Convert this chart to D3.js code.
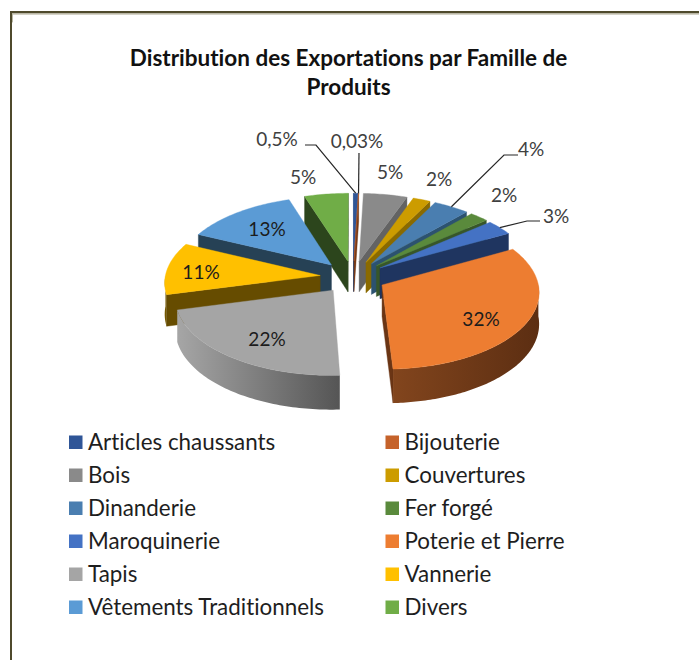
<!DOCTYPE html>
<html><head><meta charset="utf-8">
<script src="https://cdn.jsdelivr.net/npm/d3@7"></script>
<style>html,body{margin:0;padding:0;background:#fff}svg{display:block}text{font-family:Lato,"Noto Sans",sans-serif;font-variant-ligatures:none}</style>
</head><body><svg id="c" width="699" height="660"></svg>
<script>
const categories=["Articles chaussants","Bijouterie","Bois","Couvertures","Dinanderie","Fer forgé","Maroquinerie","Poterie et Pierre","Tapis","Vannerie","Vêtements Traditionnels","Divers"];
const values=[0.5,0.03,5,2,4.1,2.2,3.2,32.2,21.8,11,13,5];
const valueLabels=["0,5%","0,03%","5%","2%","4%","2%","3%","32%","22%","11%","13%","5%"];
const titleLines=["Distribution des Exportations par Famille de","Produits"];
const topColors=["#2f5597","#c5622a","#8a8a8a","#cc9c00","#4a7eb0","#5a8a3c","#4472c4","#ed7d31","#a5a5a5","#ffc000","#5b9bd5","#70ad47"];
const sideColors=["#1f3864","#7a3a14","#636363","#8a6a00","#2c5270","#37562a","#1f3560","#6a3515","#8c8c8c","#664c00","#264155","#2c451c"];
const wallStart=["#1f3864","#7a3a14","#777777","#9a7600","#36648c","#44692c","#26437a","#82451d","#a6a6a6","#7f6000","#2e5a82","#446a2c"];
const wallEnd=["#1f3864","#7a3a14","#555555","#7a5e00","#264866","#314d20","#1f3560","#5c2e12","#555555","#664c00","#264155","#2c451c"];
const labelSpots=[[277,139],[357,141],[390,172],[439,179],[531,149],[504,195],[556,216],[481,319],[267,339],[201,272],[267,229],[303,177]];
const leaderElbows={0:[[305,145],[316,145]],1:[[359,153]],4:[[518,155],[504,155]],6:[[540,221],[527,221]]};

const P={cx:353,cy:277,R:155,e:33,k:0.49,h:31,D:1900};
const svg=d3.select("#c");
const defs=svg.append("defs");
const frame="#4f4a2c";
svg.append("rect").attr("x",10).attr("y",11).attr("width",689).attr("height",2.4).attr("fill",frame);
svg.append("rect").attr("x",12).attr("y",13.4).attr("width",687).attr("height",1.2).attr("fill","#b9b7a2");
svg.append("rect").attr("x",10).attr("y",11).attr("width",2).attr("height",649).attr("fill",frame);
svg.append("rect").attr("x",12).attr("y",13.4).attr("width",1).attr("height",9).attr("fill","#b9b7a2");

svg.append("g").selectAll("text").data(titleLines).join("text")
 .attr("x",348.5).attr("y",(d,i)=>66+i*29).attr("text-anchor","middle")
 .attr("font-size",22.5).attr("font-weight",700).attr("fill","#111").text(d=>d);

function proj(x,y,z){const s=1/(1-y/P.D);return [P.cx+s*x,P.cy+s*(y*P.k+z*P.h)];}
const arcs=d3.pie().sort(null).value(d=>d)(values);
const line=d3.line();
function ground(a,r,mid){return [P.e*Math.sin(mid)+r*Math.sin(a),-P.e*Math.cos(mid)-r*Math.cos(a)];}
const area=d3.polygonArea;
const order=arcs.map((d,i)=>i).sort((a,b)=>{
 const m=i=>(arcs[i].startAngle+arcs[i].endAngle)/2;
 return -Math.cos(m(a))+Math.cos(m(b));});
const gPie=svg.append("g");
order.forEach(i=>{
 const d=arcs[i],a0=d.startAngle,a1=d.endAngle,mid=(a0+a1)/2;
 const g=gPie.append("g");
 const pt=(a,r,z)=>{const q=ground(a,r,mid);return proj(q[0],q[1],z);};
 const steps=Math.max(2,Math.ceil((a1-a0)/0.02));
 const sample=(s,e)=>d3.range(steps+1).map(j=>s+(e-s)*j/steps);
 [[a0,1],[a1,-1]].forEach(([a,sign])=>{
  const poly=[pt(0,0,0),pt(a,P.R,0),pt(a,P.R,1),pt(0,0,1)];
  if(area(poly)*sign>0) g.append("path").attr("d",line(poly)+"Z").attr("fill",sideColors[i]).attr("stroke",sideColors[i]).attr("stroke-width",.4);
 });
 const w0=Math.max(a0,Math.PI/2),w1=Math.min(a1,3*Math.PI/2);
 if(w1>w0){
  const tops=sample(w0,w1).map(a=>pt(a,P.R,0)),bots=sample(w0,w1).map(a=>pt(a,P.R,1)).reverse();
  const xs=d3.extent(tops,p=>p[0]);
  const id="wall"+i;
  const gr=defs.append("linearGradient").attr("id",id).attr("gradientUnits","userSpaceOnUse")
    .attr("x1",xs[0]).attr("x2",xs[1]).attr("y1",0).attr("y2",0);
  gr.append("stop").attr("offset",0).attr("stop-color",wallStart[i]);
  gr.append("stop").attr("offset",1).attr("stop-color",wallEnd[i]);
  g.append("path").attr("d",line(tops.concat(bots))+"Z").attr("fill",`url(#${id})`);
 }
 const top=[pt(0,0,0)].concat(sample(a0,a1).map(a=>pt(a,P.R,0)));
 g.append("path").attr("d",line(top)+"Z").attr("fill",topColors[i]).attr("stroke",topColors[i]).attr("stroke-width",.4);
});
Object.keys(leaderElbows).forEach(k=>{
 const i=+k,d=arcs[i],mid=(d.startAngle+d.endAngle)/2,q=ground(mid,P.R,mid);
 const pts=leaderElbows[k].concat([proj(q[0],q[1],0)]);
 svg.append("path").attr("d",line(pts)).attr("fill","none").attr("stroke","#262626").attr("stroke-width",1.2);
});
svg.append("g").selectAll("text").data(valueLabels).join("text")
 .attr("x",(d,i)=>labelSpots[i][0]).attr("y",(d,i)=>labelSpots[i][1]).attr("dy","0.35em")
 .attr("text-anchor","middle").attr("font-size",19)
 .attr("fill",(d,i)=>[7,8,9,10].includes(i)?"#1c1c1c":"#404040").text(d=>d);
const rowY=d3.scalePoint().domain(d3.range(6)).range([442,607]);
const colX=d3.scalePoint().domain([0,1]).range([69,385.5]);
const lg=svg.append("g").selectAll("g").data(categories).join("g")
 .attr("transform",(d,i)=>`translate(${colX(i%2)},${rowY(Math.floor(i/2))})`);
lg.append("rect").attr("y",-6.5).attr("width",13.5).attr("height",13.5).attr("fill",(d,i)=>topColors[i]);
lg.append("text").attr("x",19).attr("dy","0.35em").attr("font-size",22.4).attr("fill","#1e1e1e").text(d=>d);
</script></body></html>
